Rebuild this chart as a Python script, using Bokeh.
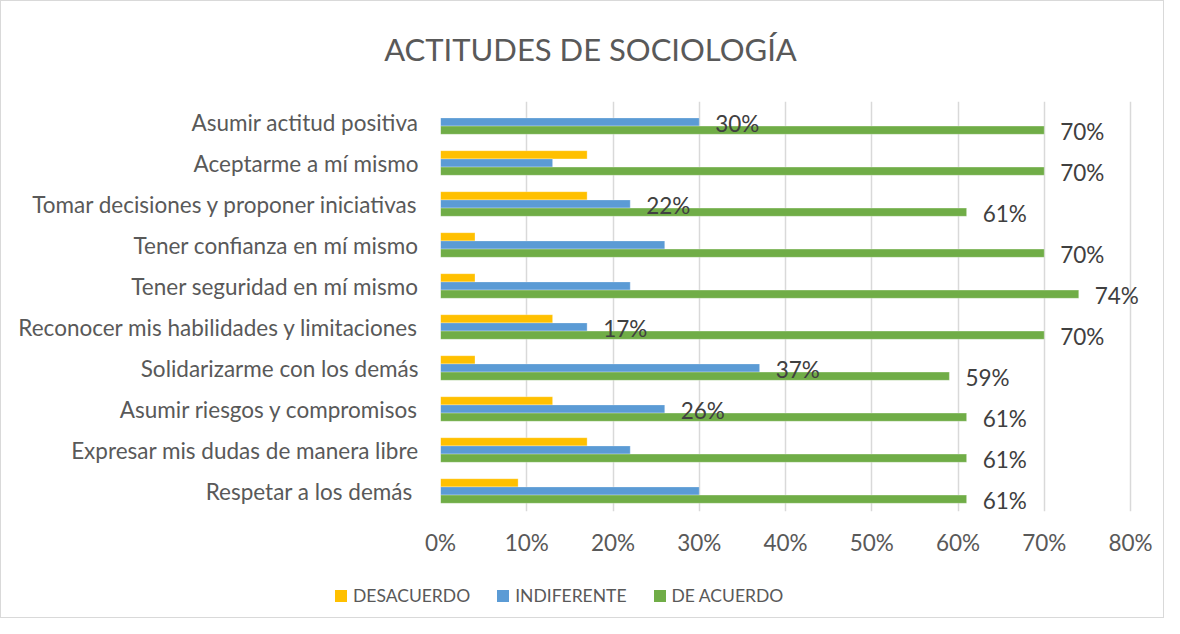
from bokeh.plotting import figure
from bokeh.layouts import column, row
from bokeh.models import (Range1d, ColumnDataSource, LabelSet, Label, Legend,
                          LegendItem, FixedTicker, NumeralTickFormatter)
from bokeh.core.properties import value
from bokeh.embed import file_html
from bokeh.resources import INLINE

categories = [
    "Asumir actitud positiva",
    "Aceptarme a mí mismo",
    "Tomar decisiones y proponer iniciativas",
    "Tener confianza en mí mismo",
    "Tener seguridad en mí mismo",
    "Reconocer mis habilidades y limitaciones",
    "Solidarizarme con los demás",
    "Asumir riesgos y compromisos",
    "Expresar mis dudas de manera libre",
    "Respetar a los demás ",
]
desacuerdo = [0.00, 0.17, 0.17, 0.04, 0.04, 0.13, 0.04, 0.13, 0.17, 0.09]
indiferente = [0.30, 0.13, 0.22, 0.26, 0.22, 0.17, 0.37, 0.26, 0.22, 0.30]
de_acuerdo = [0.70, 0.70, 0.61, 0.70, 0.74, 0.70, 0.59, 0.61, 0.61, 0.61]
indiferente_labeled = [True, False, True, False, False, True, True, True, False, False]
series_names = ["DESACUERDO", "INDIFERENTE", "DE ACUERDO"]
series_colors = ["#FFC000", "#5B9BD5", "#70AD47"]
x_ticks = [0.0, 0.1, 0.2, 0.3, 0.4, 0.5, 0.6, 0.7, 0.8]
title_text = "ACTITUDES DE SOCIOLOGÍA"

FONT = "Lato"
FS = "22.5px"
W = 1162
n = len(categories)
ypos = [n - 1 - i for i in range(n)]
offs = [0.2, 0.0, -0.2]


def strip(height):
    f = figure(width=W, height=height, output_backend="svg", toolbar_location=None,
               x_range=Range1d(0, 1), y_range=Range1d(0, 1),
               x_axis_location=None, y_axis_location=None,
               min_border_left=0, min_border_right=0, min_border_top=0, min_border_bottom=0)
    f.outline_line_color = None
    f.xgrid.grid_line_color = None
    f.ygrid.grid_line_color = None
    return f


# title strip
TH = 80
tf = strip(TH)
tf.add_layout(Label(x=589, y=TH - 47, x_units="screen", y_units="screen",
                    text=title_text, text_align="center", text_baseline="middle",
                    text_font=FONT, text_font_size="31px", text_color="#595959"))

# main chart: frame spans 439..1144 px; the 0-80% scale covers 439..1129 px
FRAME_L, AXIS_R, FRAME_R = 439, 1129, 1144
x_end = 0.8 * (FRAME_R - FRAME_L) / (AXIS_R - FRAME_L)

p = figure(width=W, height=569 - TH, output_backend="svg", toolbar_location=None,
           x_range=Range1d(0, x_end), y_range=Range1d(-0.5, n - 0.5),
           min_border_left=FRAME_L, min_border_right=W - FRAME_R, min_border_top=100 - TH,
           min_border_bottom=59)
p.outline_line_color = None
p.background_fill_color = "white"
p.border_fill_color = "white"

renderers = []
for vals, off, col in zip([desacuerdo, indiferente, de_acuerdo], offs, series_colors):
    src = ColumnDataSource(dict(y=[y + off for y in ypos], right=vals))
    r = p.hbar(y="y", left=0, right="right", height=0.2, source=src,
               fill_color=col, line_color="white", line_width=0.6, line_alpha=0.5)
    renderers.append(r)

# data labels
lab_y, lab_x, lab_t = [], [], []
for i in range(n):
    lab_y.append(ypos[i] + offs[2]); lab_x.append(de_acuerdo[i])
    lab_t.append(f"{round(de_acuerdo[i]*100)}%")
    if indiferente_labeled[i]:
        lab_y.append(ypos[i] + offs[1]); lab_x.append(indiferente[i])
        lab_t.append(f"{round(indiferente[i]*100)}%")
lsrc = ColumnDataSource(dict(x=lab_x, y=lab_y, t=lab_t))
p.add_layout(LabelSet(x="x", y="y", text="t", source=lsrc, x_offset=16, y_offset=-1,
                      text_baseline="middle", text_align="left",
                      text_font=value(FONT), text_font_size=FS, text_color="#404040"))

# axes
p.xaxis.ticker = FixedTicker(ticks=x_ticks)
p.xaxis.formatter = NumeralTickFormatter(format="0%")
p.xaxis.axis_line_color = None
p.xaxis.major_tick_line_color = None
p.xaxis.minor_tick_line_color = None
p.xaxis.major_tick_out = 0
p.xaxis.major_label_standoff = 17
p.xaxis.major_label_text_font = FONT
p.xaxis.major_label_text_font_size = FS
p.xaxis.major_label_text_color = "#595959"

p.yaxis.ticker = FixedTicker(ticks=ypos)
p.yaxis.major_label_overrides = {y: c for y, c in zip(ypos, categories)}
p.yaxis.axis_line_color = None
p.yaxis.major_tick_line_color = None
p.yaxis.minor_tick_line_color = None
p.yaxis.major_tick_out = 0
p.yaxis.major_label_standoff = 22
p.yaxis.major_label_text_font = FONT
p.yaxis.major_label_text_font_size = FS
p.yaxis.major_label_text_color = "#595959"

p.ygrid.grid_line_color = None
p.xgrid.grid_line_color = "#d9d9d9"
p.xgrid.grid_line_width = 1.5

# legend strip
lf = strip(47)
leg_r = []
for col in series_colors:
    leg_r.append(lf.hbar(y=[-5], left=[0], right=[0], height=1, fill_color=col, line_color=None))
legend = Legend(items=[LegendItem(label=nm, renderers=[r]) for nm, r in zip(series_names, leg_r)],
                orientation="horizontal", location=(332, 11),
                glyph_width=15, glyph_height=15, label_standoff=5, spacing=25,
                padding=0, margin=0, border_line_color=None, background_fill_alpha=0,
                label_text_font=FONT, label_text_font_size="17.5px",
                label_text_color="#595959")
lf.add_layout(legend, "center")

layout = column(row(tf), row(p), row(lf), spacing=0)
layout.styles = {"border": "1px solid #d9d9d9", "background-color": "white"}

open("out.html", "w").write(file_html(layout, INLINE))
